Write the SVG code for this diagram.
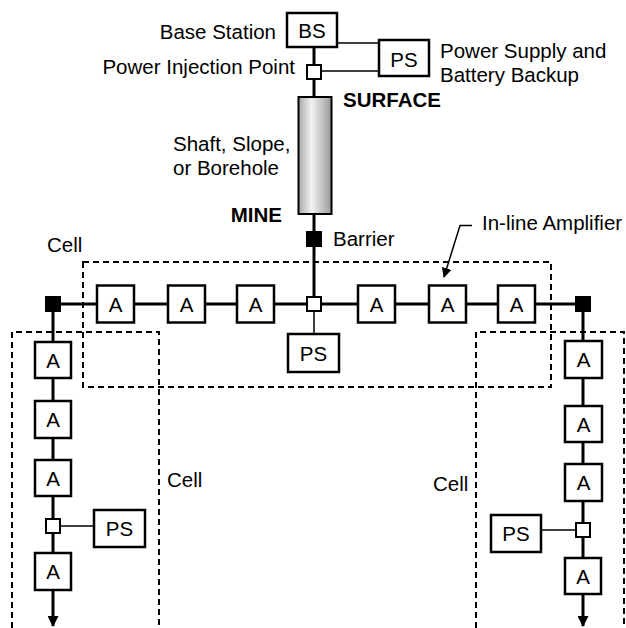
<svg xmlns="http://www.w3.org/2000/svg" width="626" height="628" viewBox="0 0 626 628">
<defs>
<style>
text{font-family:"Liberation Sans",Arial,sans-serif;font-size:20.5px;fill:#000}
.b{font-weight:bold}
.c{text-anchor:middle}
.e{text-anchor:end}
.box{fill:#fff;stroke:#000;stroke-width:2.5}
.jw{fill:#fff;stroke:#000;stroke-width:2}
.jb{fill:#000;stroke:#000;stroke-width:1}
.thick{stroke:#000;stroke-width:3;fill:none}
.thin{stroke:#000;stroke-width:1.5;fill:none}
.dash{stroke:#000;stroke-width:2;fill:none;stroke-dasharray:6,4}
</style>
<linearGradient id="cyl" x1="0" y1="0" x2="1" y2="0">
<stop offset="0" stop-color="#a8a8a8"/>
<stop offset="0.4" stop-color="#f2f2f2"/>
<stop offset="1" stop-color="#9a9a9a"/>
</linearGradient>
<marker id="arr" markerWidth="11" markerHeight="11" refX="10" refY="5.5" orient="auto" markerUnits="userSpaceOnUse" viewBox="0 0 11 11">
<path d="M0,0 L11,5.5 L0,11 z" fill="#000"/>
</marker>
<marker id="arr2" markerWidth="10" markerHeight="10" refX="9" refY="5" orient="auto" markerUnits="userSpaceOnUse" viewBox="0 0 10 10">
<path d="M0,0 L10,5 L0,10 z" fill="#000"/>
</marker>
</defs>
<rect width="626" height="628" fill="#fff"/>

<g id="cells">
<rect class="dash" x="83" y="262" width="468" height="125"/>
<path class="dash" d="M12,628 V332 H159 V628"/>
<path class="dash" d="M476,628 V332 H624 V628"/>
</g>

<g id="connectors">
<line class="thick" x1="314" y1="48" x2="314" y2="97"/>
<line class="thick" x1="314" y1="214" x2="314" y2="296"/>
<line class="thin" x1="338" y1="43" x2="378" y2="43"/>
<line class="thin" x1="322" y1="71" x2="378" y2="71"/>
<line class="thick" x1="53" y1="304" x2="583" y2="304"/>
<line class="thin" x1="314" y1="312" x2="314" y2="334"/>
<line class="thick" x1="53" y1="304" x2="53" y2="626" marker-end="url(#arr)"/>
<line class="thick" x1="583" y1="304" x2="583" y2="626" marker-end="url(#arr)"/>
<line class="thin" x1="61" y1="526" x2="93" y2="526"/>
<line class="thin" x1="542" y1="530" x2="575" y2="530"/>
<path class="thin" d="M472,225.5 H460 L444,277" marker-end="url(#arr2)"/>
</g>

<g id="bs"><rect class="box" x="287" y="13" width="50" height="34"/><text class="c" x="312" y="38">BS</text></g>
<g id="ps-top"><rect class="box" x="379" y="40" width="50" height="36"/><text class="c" x="404" y="66.5">PS</text></g>
<g id="injection"><rect class="jw" x="307" y="65" width="14" height="14"/></g>
<g id="shaft"><rect x="298.5" y="97" width="33" height="117" fill="url(#cyl)" stroke="#000" stroke-width="2"/></g>
<g id="barrier"><rect class="jb" x="306.5" y="231.5" width="15" height="15"/></g>

<g id="junction-left"><rect class="jb" x="45.5" y="296.5" width="15" height="15"/></g>
<g id="junction-right"><rect class="jb" x="575.5" y="296.5" width="15" height="15"/></g>
<g id="junction-center"><rect class="jw" x="307" y="297" width="14" height="14"/></g>

<g id="a1"><rect class="box" x="97" y="285.5" width="37" height="37"/><text class="c" x="115.5" y="311.5">A</text></g>
<g id="a2"><rect class="box" x="168" y="285.5" width="37" height="37"/><text class="c" x="186.5" y="311.5">A</text></g>
<g id="a3"><rect class="box" x="237" y="285.5" width="37" height="37"/><text class="c" x="255.5" y="311.5">A</text></g>
<g id="a4"><rect class="box" x="358" y="285.5" width="37" height="37"/><text class="c" x="376.5" y="311.5">A</text></g>
<g id="a5"><rect class="box" x="429" y="285.5" width="37" height="37"/><text class="c" x="447.5" y="311.5">A</text></g>
<g id="a6"><rect class="box" x="498" y="285.5" width="37" height="37"/><text class="c" x="516.5" y="311.5">A</text></g>
<g id="ps-center"><rect class="box" x="288" y="334" width="51" height="38"/><text class="c" x="313.5" y="360.5">PS</text></g>

<g id="l1"><rect class="box" x="35" y="342" width="36" height="36"/><text class="c" x="53" y="367.5">A</text></g>
<g id="l2"><rect class="box" x="35" y="401" width="36" height="37"/><text class="c" x="53" y="427">A</text></g>
<g id="l3"><rect class="box" x="35" y="460" width="36" height="36"/><text class="c" x="53" y="485.5">A</text></g>
<g id="l-junction"><rect class="jw" x="46" y="519" width="14" height="14"/></g>
<g id="l-ps"><rect class="box" x="94" y="510" width="51" height="37"/><text class="c" x="119.5" y="536">PS</text></g>
<g id="l4"><rect class="box" x="35" y="553" width="36" height="37"/><text class="c" x="53" y="579">A</text></g>

<g id="r1"><rect class="box" x="565" y="341" width="37" height="37"/><text class="c" x="583.5" y="367">A</text></g>
<g id="r2"><rect class="box" x="565" y="406" width="37" height="36"/><text class="c" x="583.5" y="431.5">A</text></g>
<g id="r3"><rect class="box" x="565" y="464" width="37" height="37"/><text class="c" x="583.5" y="490">A</text></g>
<g id="r-junction"><rect class="jw" x="576" y="523" width="14" height="14"/></g>
<g id="r-ps"><rect class="box" x="491" y="515" width="50" height="37"/><text class="c" x="516" y="541">PS</text></g>
<g id="r4"><rect class="box" x="565" y="558" width="36" height="36"/><text class="c" x="583" y="583.5">A</text></g>

<g id="labels">
<text class="e" x="276" y="38.5">Base Station</text>
<text class="e" x="295" y="73.5">Power Injection Point</text>
<text x="440" y="57.5">Power Supply and</text>
<text x="440" y="82">Battery Backup</text>
<text class="b" x="343" y="106.5">SURFACE</text>
<text x="173" y="151">Shaft, Slope,</text>
<text x="173" y="175">or Borehole</text>
<text class="b e" x="282" y="221.5">MINE</text>
<text x="333" y="246">Barrier</text>
<text x="482" y="230">In-line Amplifier</text>
<text x="47" y="252">Cell</text>
<text x="167" y="487">Cell</text>
<text x="433" y="491">Cell</text>
</g>
</svg>
